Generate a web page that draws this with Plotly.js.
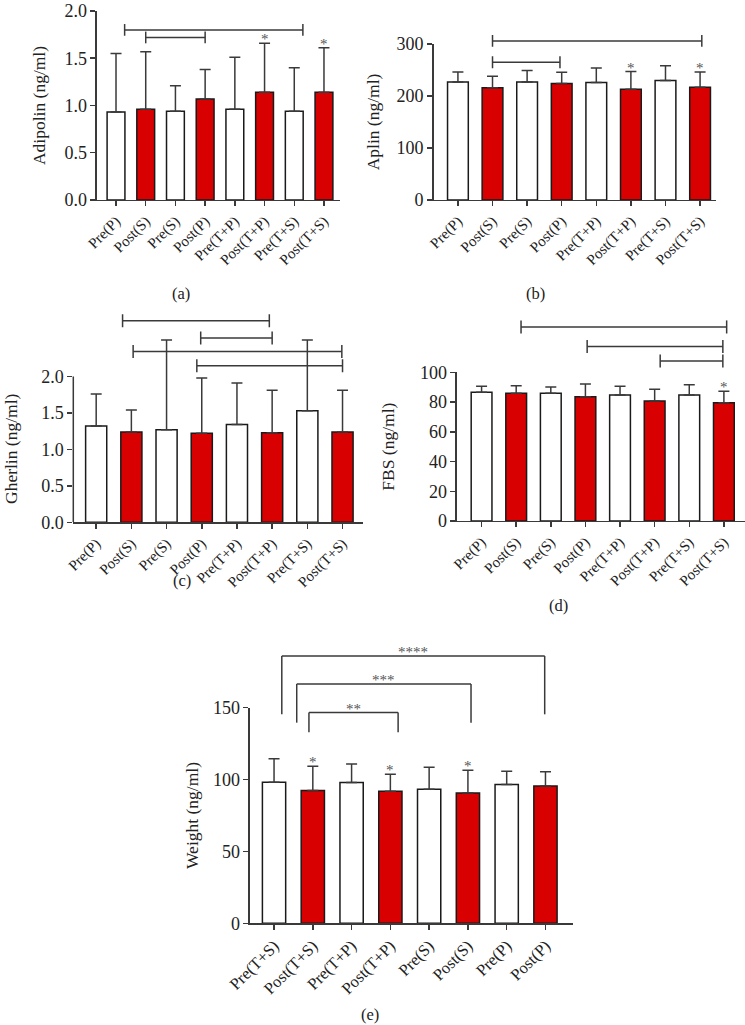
<!DOCTYPE html>
<html><head><meta charset="utf-8">
<script src="https://cdn.plot.ly/plotly-3.0.1.min.js"></script>
<style>html,body{margin:0;padding:0;background:#fff}#chart{width:745px;height:1025px}</style>
</head><body><div id="chart"></div>
<script>
// ---------- data ----------
const groupsAD = ['Pre(P)','Post(S)','Pre(S)','Post(P)','Pre(T+P)','Post(T+P)','Pre(T+S)','Post(T+S)'];
const groupsE  = ['Pre(T+S)','Post(T+S)','Pre(T+P)','Post(T+P)','Pre(S)','Post(S)','Pre(P)','Post(P)'];

const adipolinMean = [0.93, 0.96, 0.94, 1.07, 0.96, 1.14, 0.94, 1.14];
const adipolinSD   = [0.62, 0.61, 0.27, 0.31, 0.55, 0.52, 0.46, 0.47];

const aplinMean = [227, 216, 227, 224, 226, 213, 230, 217];
const aplinSD   = [19, 22, 22, 21.5, 28, 34, 28, 29];

const gherlinMean = [1.32, 1.24, 1.27, 1.22, 1.34, 1.23, 1.53, 1.24];
const gherlinSD   = [0.44, 0.30, 1.23, 0.76, 0.57, 0.58, 0.97, 0.57];

const fbsMean = [86.5, 85.9, 85.9, 83.6, 84.8, 80.7, 84.8, 79.6];
const fbsSD   = [4.1, 5.1, 4.2, 8.6, 5.8, 7.9, 6.9, 7.6];

const weightMean = [98.2, 92.4, 97.9, 91.9, 93.3, 90.6, 96.5, 95.6];
const weightSD   = [16.3, 16.8, 12.9, 11.8, 15.2, 15.9, 9.3, 9.9];

// bars marked with a single star
const starsA = [5, 7];
const starsB = [5, 7];
const starsC = [];
const starsD = [7];
const starsE = [1, 3, 5];

// comparison brackets: [from, to, level]
const bracketsA = [[0.29, 6.29, 1.80], [1.0, 3.0, 1.72]];
const bracketsB = [[1.0, 7.05, 306], [1.0, 2.95, 265]];
const bracketsC = [[0.75, 4.92, 2.766], [2.97, 5.0, 2.528], [1.05, 6.98, 2.344], [2.86, 7.0, 2.147]];
const bracketsD = [[1.14, 7.08, 130.5], [3.05, 6.97, 117.3], [5.16, 6.97, 107.6]];
// weight: [from, to, level, leftFoot, rightFoot, label]
const bracketsE = [[0.20, 6.98, 186.0, 145.4, 145.4, '****'],
                   [0.585, 5.08, 166.5, 139.6, 139.6, '***'],
                   [0.90, 3.20, 146.6, 132.9, 132.9, '**']];

// ---------- style ----------
const RED = '#D80000';
const FONT = "'Liberation Serif', 'Times New Roman', serif";
const INK = '#222';
const LINE = '#3a3a3a';

// ext: y range extended above the top tick (so tall error bars are not clipped)
const panels = [
  {k:'', cats:groupsAD, mean:adipolinMean, sd:adipolinSD, stars:starsA, br:bracketsA, title:'Adipolin (ng/ml)',
   xd:[0.1302,0.4564], yd:[0.80488,0.98927], xr:[-0.64,7.54], top:2.0, ext:null, tv:[0,0.5,1,1.5,2], fmt:'.1f', h:0.062,
   label:'(a)', lx:181, ly:293, standoff:14, xfs:15},
  {k:'2', cats:groupsAD, mean:aplinMean, sd:aplinSD, stars:starsB, br:bracketsB, title:'Aplin (ng/ml)',
   xd:[0.58215,0.96107], yd:[0.80488,0.95707], xr:[-0.70,7.46], top:300, ext:null, tv:[0,100,200,300], fmt:'d', h:11.5,
   label:'(b)', lx:535, ly:293, standoff:12, xfs:15},
  {k:'3', cats:groupsAD, mean:gherlinMean, sd:gherlinSD, stars:starsC, br:bracketsC, title:'Gherlin (ng/ml)',
   xd:[0.09839,0.48765], yd:[0.49044,0.69668], xr:[-0.65,7.59], top:2.0, ext:2.9, tv:[0,0.5,1,1.5,2], fmt:'.1f', h:0.089,
   label:'(c)', lx:182, ly:580, standoff:19, xfs:15, titleX:11, titleY:449},
  {k:'4', cats:groupsAD, mean:fbsMean, sd:fbsSD, stars:starsD, br:bracketsD, title:'FBS (ng/ml)',
   xd:[0.61342,1.0], yd:[0.49171,0.63678], xr:[-0.71,7.61], top:100, ext:null, tv:[0,20,40,60,80,100], fmt:'d', h:4.4,
   label:'(d)', lx:558, ly:605, standoff:21, xfs:15},
  {k:'5', cats:groupsE, mean:weightMean, sd:weightSD, stars:starsE, br:null, title:'Weight (ng/ml)',
   xd:[0.33557,0.76913], yd:[0.09922,0.30956], xr:[-0.62,7.71], top:150, ext:null, tv:[0,50,100,150], fmt:'d', h:0,
   label:'(e)', lx:370, ly:null, standoff:10, xfs:16.5}
];

const data = [];
const layout = {
  width:745, height:1025, margin:{l:0,r:0,t:0,b:0},
  paper_bgcolor:'#fff', plot_bgcolor:'rgba(0,0,0,0)',
  showlegend:false, font:{family:FONT, color:INK},
  shapes:[], annotations:[]
};

function ln(xref, yref, x0, y0, x1, y1) {
  return {type:'line', xref:xref, yref:yref, x0:x0, y0:y0, x1:x1, y1:y1,
          line:{color:LINE, width:1.5}, layer:'above'};
}

panels.forEach(p => {
  const xid = 'x' + p.k, yid = 'y' + p.k;
  const yMax = p.ext || p.top;
  // brackets above the axis range are placed on the y domain (value / range top)
  const bref = p.ext ? yid : yid + ' domain';
  const bv = v => p.ext ? v : v / p.top;
  data.push({
    type:'bar', x:p.cats, y:p.mean, xaxis:xid, yaxis:yid, width:0.6,
    marker:{color:p.cats.map(c => c.startsWith('Post') ? RED : '#ffffff'), line:{color:'#1a1a1a', width:1.5}},
    error_y:{type:'data', symmetric:false, array:p.sd, arrayminus:p.sd.map(() => 0),
             color:LINE, thickness:1.5, width:5.5},
    hoverinfo:'skip', cliponaxis:false
  });
  layout['xaxis' + p.k] = {
    domain:p.xd, anchor:yid, range:p.xr, type:'category',
    showline:true, linecolor:LINE, linewidth:1.5, ticks:'outside', ticklen:5, tickwidth:1.5, tickcolor:LINE,
    tickangle:-45, tickfont:{family:FONT, size:p.xfs, color:INK}, showgrid:false, zeroline:false, fixedrange:true
  };
  const ya = {
    domain:p.yd, anchor:xid, range:[0, yMax], tickvals:p.tv, tickformat:p.fmt, ticklabeloverflow:'allow',
    showline:!p.ext, linecolor:LINE, linewidth:1.5, ticks:'outside', ticklen:5, tickwidth:1.5, tickcolor:LINE,
    tickfont:{family:FONT, size:18, color:INK}, showgrid:false, zeroline:false, fixedrange:true
  };
  if (p.ext) {
    // axis line only up to the top tick, title centred on the tick span
    layout.shapes.push(ln(xid + ' domain', yid, 0, 0, 0, p.top));
    layout.annotations.push({xref:'paper', yref:'paper', x:p.titleX / 745, y:1 - p.titleY / 1025,
      text:p.title, textangle:-90, showarrow:false, xanchor:'center', yanchor:'middle',
      font:{family:FONT, size:17.5, color:INK}});
  } else {
    ya.title = {text:p.title, font:{family:FONT, size:17.5, color:INK}, standoff:p.standoff};
  }
  layout['yaxis' + p.k] = ya;
  // single stars over bars
  p.stars.forEach(i => {
    layout.annotations.push({xref:xid, yref:yid, x:i, y:p.mean[i] + p.sd[i], text:'*', showarrow:false,
      yanchor:'bottom', yshift:-6, font:{family:FONT, size:15, color:'#555'}});
  });
  // H-style brackets
  if (p.br) {
    p.br.forEach(b => {
      layout.shapes.push(ln(xid, bref, b[0], bv(b[2]), b[1], bv(b[2])));
      layout.shapes.push(ln(xid, bref, b[0], bv(b[2] - p.h), b[0], bv(b[2] + p.h)));
      layout.shapes.push(ln(xid, bref, b[1], bv(b[2] - p.h), b[1], bv(b[2] + p.h)));
    });
  }
  // panel label
  const lab = {xref:'paper', yref:'paper', x:p.lx / 745, text:p.label, showarrow:false, xanchor:'center',
    font:{family:FONT, size:16.5, color:INK}};
  if (p.ly === null) { lab.y = 0; lab.yanchor = 'bottom'; lab.borderpad = 0; }
  else { lab.y = 1 - p.ly / 1025; lab.yanchor = 'middle'; }
  layout.annotations.push(lab);
});

// weight brackets (downward feet) with star labels
const topE = panels[4].top;
bracketsE.forEach(b => {
  layout.shapes.push(ln('x5', 'y5 domain', b[0], b[2] / topE, b[1], b[2] / topE));
  layout.shapes.push(ln('x5', 'y5 domain', b[0], b[3] / topE, b[0], b[2] / topE));
  layout.shapes.push(ln('x5', 'y5 domain', b[1], b[4] / topE, b[1], b[2] / topE));
  layout.annotations.push({xref:'x5', yref:'y5 domain', x:(b[0] + b[1]) / 2, y:b[2] / topE, text:b[5], showarrow:false,
    yanchor:'bottom', yshift:-6, font:{family:FONT, size:15, color:'#555'}});
});

Plotly.newPlot('chart', data, layout, {displayModeBar:false, staticPlot:true});
</script>
</body></html>
